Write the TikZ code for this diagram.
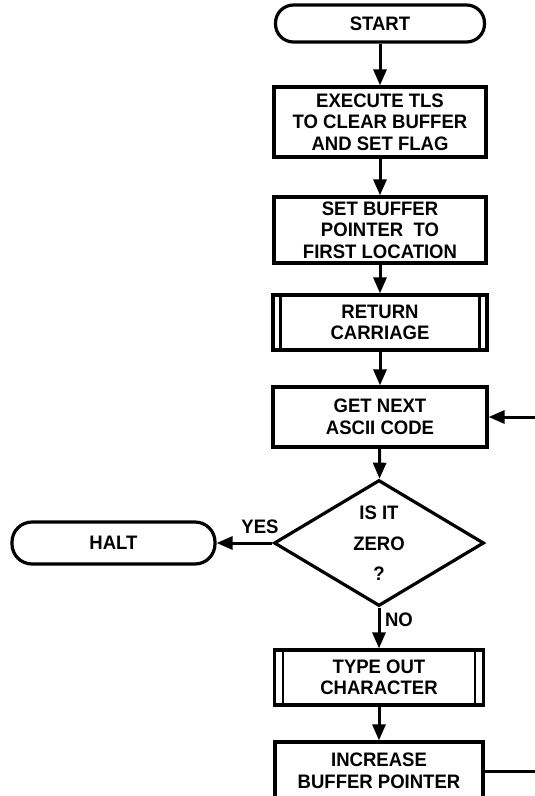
\documentclass[tikz,border=0pt]{standalone}
\usepackage{fontspec}
\setmainfont{Liberation Sans}[FakeStretch=0.95]
\usetikzlibrary{shapes.geometric,arrows.meta}
\begin{document}
\begin{tikzpicture}[x=1pt,y=-1pt,
  every node/.style={font=\fontsize{19.5}{21.5}\selectfont\bfseries, align=center, inner sep=0pt},
  box/.style={draw, line width=3.2pt, rectangle},
  term/.style={draw, line width=3.2pt, rectangle, rounded corners=18pt},
  dia/.style={draw, line width=3.2pt, diamond, aspect=1.667},
  arr/.style={line width=3pt, -{Triangle[length=16pt,width=13pt]}},
  conn/.style={line width=3pt},
  bar/.style={line width=2.6pt},
  lbl/.style={draw=none}]
\useasboundingbox (0,0) rectangle (535,796);
\clip (0,0) rectangle (535,796);

\node[term, minimum width=209pt, minimum height=37pt] (start) at (380,23.5) {START};
\node[box, minimum width=212pt, minimum height=70pt] (b1) at (380,122) {EXECUTE TLS\\TO CLEAR BUFFER\\AND SET FLAG};
\node[box, minimum width=212pt, minimum height=66pt] (b2) at (380,230) {SET BUFFER\\POINTER\ \ TO\\FIRST LOCATION};
\node[box, minimum width=214pt, minimum height=55pt] (b3) at (380,322.5) {RETURN\\CARRIAGE};
\node[box, minimum width=214pt, minimum height=60pt] (b4) at (380,417) {GET NEXT\\ASCII CODE};
\node[dia, minimum width=210pt, minimum height=126pt] (dec) at (379,543) {IS IT\\[10pt]ZERO\\[8pt]?};
\node[term, minimum width=203pt, minimum height=42pt, rounded corners=20pt] (halt) at (113.5,543) {HALT};
\node[box, minimum width=209pt, minimum height=55pt] (b5) at (379,677.5) {TYPE OUT\\CHARACTER};
\node[box, minimum width=208pt, minimum height=58pt] (b6) at (379,771) {INCREASE\\BUFFER POINTER};

% predefined-process bars
\draw[bar] ([xshift=9pt]b3.north west) -- ([xshift=9pt]b3.south west);
\draw[bar] ([xshift=-9pt]b3.north east) -- ([xshift=-9pt]b3.south east);
\draw[bar] ([xshift=10pt]b5.north west) -- ([xshift=10pt]b5.south west);
\draw[bar] ([xshift=-10pt]b5.north east) -- ([xshift=-10pt]b5.south east);

% connectors
\draw[arr] (start) -- (b1);
\draw[arr] (b1) -- (b2);
\draw[arr] (b2) -- (b3);
\draw[arr] (b3) -- (b4);
\draw[arr] (b4) -- (dec);
\draw[arr] (dec.west) -- (halt.east);
\draw[arr] (dec.south) -- (b5.north);
\draw[arr] (b5) -- (b6);
\coordinate (loop) at (542,771);
\draw[arr] (b6.east) -- (loop) |- (b4.east);

% labels
\node[lbl] (yes) at (260,527) {YES};
\node[lbl] (no) at (399,620) {NO};
\end{tikzpicture}
\end{document}
